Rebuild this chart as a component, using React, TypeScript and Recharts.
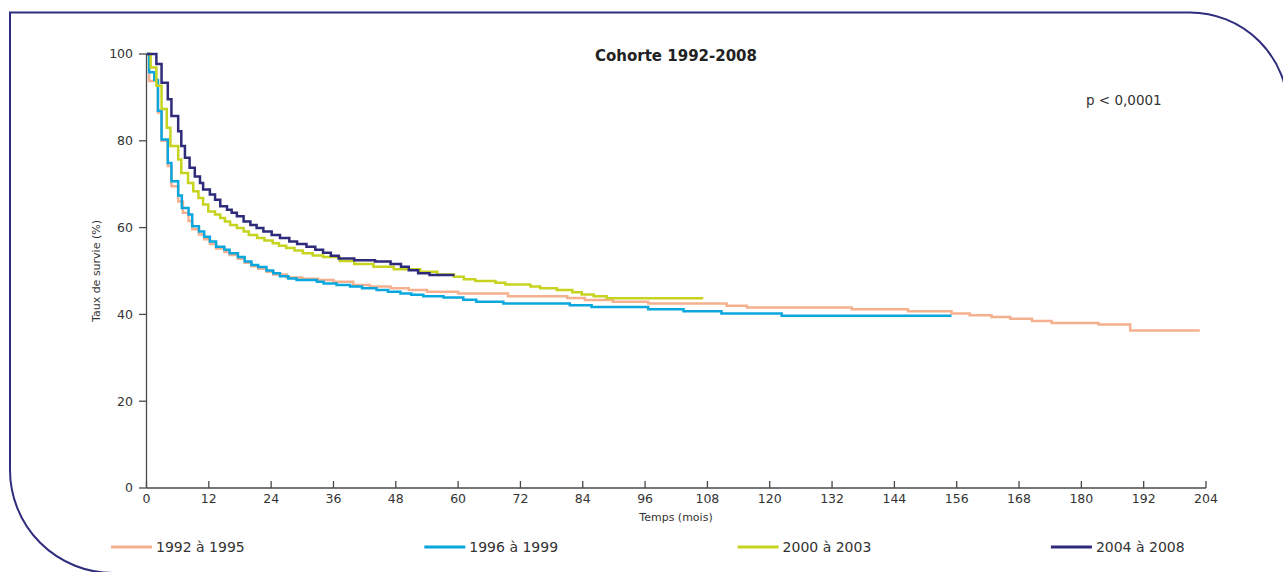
import React from 'react';
import { LineChart, Line, XAxis, YAxis } from 'recharts';

// Kaplan–Meier survival by diagnosis period, months vs % surviving
const monthTicks = [0, 12, 24, 36, 48, 60, 72, 84, 96, 108, 120, 132, 144, 156, 168, 180, 192, 204];
const survivalTicks = [0, 20, 40, 60, 80, 100];

const months1992 = [0, 0.5, 2.2, 2.9, 4.1, 4.8, 6.1, 7.0, 8.1, 8.8, 10.1, 11.1, 12.2, 13.4, 15, 16, 17.6, 18.9, 20.2, 21.5, 23.1, 24.4, 27, 30, 33, 36, 39.8, 43, 47, 50.5, 54, 60, 69.6, 81, 84.4, 89.8, 96.6, 111.7, 115.6, 135.8, 146.6, 155, 158.5, 162.7, 166.3, 170.5, 174.3, 183.3, 189.4, 202.8];
const surv1992 = [100, 93.8, 86.5, 80.0, 74.2, 69.5, 66.0, 63.4, 61.5, 59.6, 58.4, 57.3, 56.2, 55.2, 54.4, 53.7, 52.8, 51.9, 51.1, 50.5, 49.8, 49.2, 48.5, 48.2, 47.9, 47.5, 46.8, 46.4, 46.0, 45.6, 45.2, 44.8, 44.2, 43.8, 43.3, 42.9, 42.5, 42.0, 41.6, 41.2, 40.7, 40.2, 39.8, 39.4, 39.0, 38.5, 38.0, 37.7, 36.3, 36.3];

const months1996 = [0, 0.5, 1.5, 2.2, 2.9, 4.1, 4.8, 6.1, 6.8, 8.1, 8.8, 10.1, 11.1, 12.2, 13.4, 15, 16, 17.6, 18.9, 20.2, 21.5, 23.1, 24.4, 25.7, 27.3, 28.9, 32.8, 34.1, 36.6, 39.2, 41.5, 44.3, 46.5, 48.9, 51, 53.3, 57.2, 61, 63.5, 68.7, 81.5, 85.7, 96.6, 103.4, 110.7, 122.3, 155];
const surv1996 = [100, 95.8, 94.0, 86.9, 80.3, 74.9, 70.7, 67.4, 64.5, 63.0, 60.3, 59.1, 57.9, 56.8, 55.6, 54.9, 54.1, 53.2, 52.2, 51.4, 50.9, 50.1, 49.5, 48.8, 48.3, 47.9, 47.5, 47.1, 46.8, 46.4, 46.0, 45.6, 45.2, 44.8, 44.5, 44.2, 43.9, 43.4, 42.9, 42.5, 42.1, 41.7, 41.2, 40.7, 40.2, 39.7, 39.7];

const months2000 = [0, 0.8, 1.9, 2.9, 3.9, 4.6, 6.1, 6.7, 8.0, 9.0, 10, 10.9, 11.9, 13.2, 14.2, 15.1, 16.1, 17.4, 18.7, 19.7, 21.3, 22.7, 24.3, 25.5, 26.9, 28.5, 30.1, 32, 34, 37.2, 40, 43.7, 47.6, 52.7, 56, 59.2, 61.1, 63.3, 67.2, 69.1, 73.9, 75.8, 79, 82, 83.8, 86.1, 88.6, 107.2];
const surv2000 = [100, 96.9, 92.7, 87.3, 83.0, 78.8, 75.7, 72.6, 70.3, 68.4, 66.8, 65.3, 63.7, 63.0, 62.2, 61.4, 60.6, 59.9, 59.1, 58.3, 57.6, 57.0, 56.4, 55.8, 55.3, 54.7, 54.1, 53.6, 53.2, 52.3, 51.6, 51.0, 50.4, 49.8, 49.2, 48.7, 48.1, 47.7, 47.3, 46.9, 46.4, 46.0, 45.6, 45.1, 44.6, 44.2, 43.7, 43.7];

const months2004 = [0, 1.9, 2.9, 4.1, 4.8, 6.1, 6.7, 7.4, 8.3, 9.3, 10.3, 10.9, 12.2, 13.2, 14.2, 15.5, 16.4, 17.4, 18.7, 20, 21.2, 22.5, 24.1, 25.7, 27.5, 29, 30.8, 32.5, 34, 35.5, 37, 40, 44, 47, 49, 50.5, 52.3, 54.5, 59.3];
const surv2004 = [100, 97.7, 93.4, 89.6, 85.7, 82.2, 78.8, 76.1, 73.8, 71.8, 70.3, 68.8, 67.6, 66.4, 64.9, 64.1, 63.4, 62.6, 61.4, 60.6, 59.9, 59.1, 58.3, 57.6, 56.8, 56.2, 55.6, 54.9, 54.2, 53.5, 52.9, 52.5, 52.2, 51.6, 51.0, 50.2, 49.5, 49.1, 49.1];

const seriesNames = ['1992 à 1995', '1996 à 1999', '2000 à 2003', '2004 à 2008'];
const seriesColors = ['#f5b18f', '#0aa6de', '#c6d420', '#2e2b7a'];
const seriesMonths = [months1992, months1996, months2000, months2004];
const seriesSurvival = [surv1992, surv1996, surv2000, surv2004];

const toSteps = (months: number[], surv: number[]) => months.map((t, i) => ({ t, s: surv[i] }));
const seriesData = seriesMonths.map((m, i) => toSteps(m, seriesSurvival[i]));

const FONT = '"DejaVu Sans", Verdana, sans-serif';
const AXIS = '#4a4a4a';
const TEXT = '#333333';
const FRAME = '#2e2c7c';
const X_TICK_MARGIN = 6;

const XTick = (props: any) => {
  const { x, y, payload } = props;
  const axisY = y - X_TICK_MARGIN;
  return (
    <g>
      <line x1={x} x2={x} y1={axisY} y2={axisY - 7} stroke={AXIS} strokeWidth={1.3} />
      <text x={x} y={y} dy="0.71em" textAnchor="middle" fill={TEXT} fontSize={12.5} fontFamily={FONT}>
        {payload.value}
      </text>
    </g>
  );
};

export default function App() {
  return (
    <div style={{ position: 'absolute', left: 0, top: 0, width: 1283, height: 572, background: '#fff', overflow: 'hidden' }}>
      <svg width={1283} height={572} style={{ position: 'absolute', left: 0, top: 0 }}>
        <path
          d="M 10 470 L 10 12.5 L 1190 12.5 A 98 98 0 0 1 1288 110.5 L 1288 600"
          fill="none"
          stroke={FRAME}
          strokeWidth={2}
        />
        <path d="M 10 470 A 103 103 0 0 0 113 573 L 1300 573" fill="none" stroke={FRAME} strokeWidth={2} />
      </svg>
      <div style={{ position: 'absolute', left: 0, top: 0 }}>
        <LineChart width={1283} height={572} margin={{ top: 54, right: 77, left: 106.5, bottom: 46 }}>
          <XAxis
            type="number"
            dataKey="t"
            domain={[0, 204]}
            ticks={monthTicks}
            interval={0}
            height={38}
            tickSize={0}
            tickMargin={X_TICK_MARGIN}
            tickLine={false}
            axisLine={{ stroke: AXIS, strokeWidth: 1.3 }}
            tick={(p: any) => <XTick {...p} />}
            allowDataOverflow
          />
          <YAxis
            type="number"
            dataKey="s"
            domain={[0, 100]}
            ticks={survivalTicks}
            interval={0}
            width={40}
            tickSize={7.5}
            tickMargin={6}
            tickLine={{ stroke: AXIS, strokeWidth: 1.3 }}
            axisLine={{ stroke: AXIS, strokeWidth: 1.3 }}
            tick={{ fill: TEXT, fontSize: 12.5, fontFamily: FONT }}
          />
          {seriesData.map((d, i) => (
            <Line
              key={seriesNames[i]}
              data={d}
              dataKey="s"
              name={seriesNames[i]}
              type="stepAfter"
              stroke={seriesColors[i]}
              strokeWidth={2.5}
              dot={false}
              activeDot={false}
              isAnimationActive={false}
            />
          ))}
        </LineChart>
      </div>
      <svg width={1283} height={572} style={{ position: 'absolute', left: 0, top: 0, pointerEvents: 'none' }}>
        <text x={676} y={61} textAnchor="middle" fontFamily={FONT} fontWeight="bold" fontSize={15} fill="#222">
          Cohorte 1992-2008
        </text>
        <text x={1086} y={105} fontFamily={FONT} fontSize={13.5} fill={TEXT}>
          p &lt; 0,0001
        </text>
        <text
          transform="translate(100, 271) rotate(-90)"
          textAnchor="middle"
          fontFamily={FONT}
          fontSize={11}
          fill={TEXT}
        >
          Taux de survie (%)
        </text>
        <text x={676} y={521} textAnchor="middle" fontFamily={FONT} fontSize={11} fill={TEXT}>
          Temps (mois)
        </text>
        {seriesNames.map((name, i) => {
          const x0 = 111 + i * 313.3;
          return (
            <g key={name}>
              <line x1={x0} x2={x0 + 41} y1={547} y2={547} stroke={seriesColors[i]} strokeWidth={3} />
              <text x={x0 + 45} y={552} fontFamily={FONT} fontSize={14} fill={TEXT}>
                {name}
              </text>
            </g>
          );
        })}
      </svg>
    </div>
  );
}
